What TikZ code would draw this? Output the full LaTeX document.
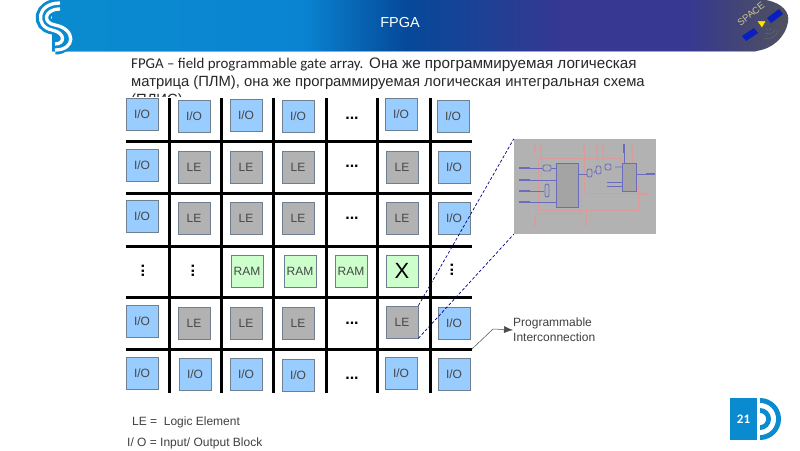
\documentclass[tikz,border=0pt]{standalone}
\usepackage{fontspec}
\setmainfont{Liberation Sans}
\newfontfamily\bodyfont{Carlito}
\usetikzlibrary{arrows.meta}
\definecolor{ioblue}{HTML}{99CCFF}
\definecolor{legrey}{HTML}{B2B2B2}
\definecolor{ramgreen}{HTML}{CCFFCC}
\definecolor{boxedge}{HTML}{6F7F8F}
\definecolor{logoblue}{HTML}{0A8BCF}
\definecolor{wirered}{HTML}{D99C9C}
\definecolor{wireblue}{HTML}{6C6CBC}
\definecolor{panelblue}{HTML}{0A1FC0}
\definecolor{spacetan}{HTML}{CFC688}
\pgfdeclarehorizontalshading{bannershade}{100bp}{
  color(0bp)=(logoblue); color(25bp)=(logoblue); color(42bp)=(logoblue!95!blue);
  color(49bp)=(logoblue!75!blue!70!black); color(59.4bp)=(rgb:red,50;green,52;blue,135);
  color(68bp)=(rgb:red,50;green,52;blue,135); color(75bp)=(rgb:red,200;green,205;blue,235);
  color(100bp)=(rgb:red,200;green,205;blue,235)}
\tikzset{
  cellbox/.style={draw=boxedge,line width=0.7pt,minimum width=32pt,minimum height=32pt,inner sep=0pt,
    font=\fontsize{12}{12}\selectfont,text=black!72},
  iobox/.style={cellbox,fill=ioblue},
  lebox/.style={cellbox,fill=legrey},
  rambox/.style={cellbox,fill=ramgreen},
  dotrow/.style={inner sep=0pt,font=\fontsize{16}{16}\bfseries\selectfont},
  dotcol/.style={dotrow,rotate=90},
  gridline/.style={line width=3pt,black},
  bodyline/.style={anchor=base west,inner sep=0pt,font=\fontsize{14.8}{14.8}\selectfont,text=black!85},
  legend/.style={anchor=base west,inner sep=0pt,font=\fontsize{12}{12}\selectfont,text=black!75},
  redwire/.style={wirered,line width=0.6pt},
  bluewire/.style={wireblue,line width=0.8pt},
  gate/.style={wireblue,line width=0.8pt,fill=legrey},
  pin/.style={wirered,line width=2pt},
  bluepin/.style={wireblue,line width=2pt}
}
\begin{document}
\begin{tikzpicture}[x=1pt,y=-1pt]
    \useasboundingbox (0,0) rectangle (800,450);
    % banner
    \shade [shading=bannershade] (52,51) -- (52,0) -- (766,0) .. controls (782,3) and (790,12) .. (788,22)
        .. controls (785,38) and (772,49) .. (756,51) -- cycle;
    \draw [logoblue!60,line width=0.7pt] (52,51) -- (756,51);
    % logo
    \draw [logoblue,line width=15pt] (60,6) .. controls (40,6) and (38,25) .. (53,27)
        .. controls (70,31) and (70,47) .. (55,47);
    \draw [white,line width=3.3pt] (60,3) .. controls (36,3) and (35,27) .. (52,30)
        .. controls (66,33) and (65,44) .. (55,44);
    \draw [white,line width=3.3pt] (60,9) .. controls (44,9) and (42,23) .. (55,25)
        .. controls (76,29) and (76,50) .. (55,50);
    \node [text=white,font=\fontsize{14.5}{14.5}\selectfont] (title) at (400,23) {FPGA};
    % satellite
    \fill [panelblue] (742,36) -- (754,28) -- (758,33) -- (746,41) -- cycle;
    \fill [panelblue] (767,18) -- (779,9) -- (783,14) -- (771,23) -- cycle;
    \fill [yellow!85!orange,draw=black!70,line width=0.4pt] (757,21) -- (766,21) -- (762,28) -- cycle;
    \node [rotate=38,text=spacetan,inner sep=0pt,font=\fontsize{9.5}{9.5}\selectfont] (space) at (751,14) {SPACE};
    \draw [black!60,line width=0.5pt] (766,29) .. controls (769,31) and (771,30) .. (772,28);
    \draw [black!60,line width=0.5pt] (765,33) .. controls (770,35) and (774,33) .. (775,29);
    \draw [black!60,line width=0.5pt] (764,38) .. controls (771,40) and (777,36) .. (778,30);
    % text
    \node [bodyline,font=\bodyfont\fontsize{14.9}{14.9}\selectfont] (linea) at (131,68) {FPGA – field programmable gate array.};
    \node [bodyline,font=\fontsize{15.2}{15.2}\selectfont] (lineaa) at (369,68) {Она же программируемая логическая};
    \node [bodyline] (lineb) at (131,86) {матрица (ПЛМ), она же программируемая логическая интегральная схема};
    \node [bodyline] (linec) at (131,104) {(ПЛИС)};
    \fill [white] (126,97) rectangle (300,112);
    % grid
    \draw [gridline] (126,141) -- (472,141);
    \draw [gridline] (126,193) -- (472,193);
    \draw [gridline] (126,246) -- (472,246);
    \draw [gridline] (126,297) -- (472,297);
    \draw [gridline] (126,349) -- (472,349);
    \draw [gridline] (169,98) -- (169,393);
    \draw [gridline] (221,98) -- (221,393);
    \draw [gridline] (273,98) -- (273,393);
    \draw [gridline] (326,98) -- (326,393);
    \draw [gridline] (377,98) -- (377,393);
    \draw [gridline] (430,98) -- (430,393);
    % row one
    \node [iobox] (ioa) at (142,114) {I/O};
    \node [iobox] (iob) at (194,116) {I/O};
    \node [iobox] (ioc) at (246,115) {I/O};
    \node [iobox] (iod) at (298,116) {I/O};
    \node [dotrow] (dotsa) at (352,118) {...};
    \node [iobox] (ioe) at (401,114) {I/O};
    \node [iobox] (iof) at (453,116) {I/O};
    % row two
    \node [iobox] (iog) at (142,165) {I/O};
    \node [lebox] (lea) at (194,167) {LE};
    \node [lebox] (leb) at (246,167) {LE};
    \node [lebox] (lec) at (298,167) {LE};
    \node [dotrow] (dotsb) at (352,166) {...};
    \node [lebox] (led) at (402,167) {LE};
    \node [iobox] (ioh) at (454,167) {I/O};
    % row three
    \node [iobox] (ioi) at (142,216) {I/O};
    \node [lebox] (lee) at (194,218) {LE};
    \node [lebox] (lef) at (246,218) {LE};
    \node [lebox] (leg) at (298,218) {LE};
    \node [dotrow] (dotsc) at (352,218) {...};
    \node [lebox] (leh) at (402,218) {LE};
    \node [iobox] (ioj) at (454,218) {I/O};
    % row four
    \node [dotcol] (dotsd) at (143,271) {...};
    \node [dotcol] (dotse) at (193,271) {...};
    \node [rambox] (rama) at (247,271) {RAM};
    \node [rambox] (ramb) at (300,271) {RAM};
    \node [rambox] (ramc) at (351,271) {RAM};
    \node [rambox,font=\fontsize{22}{22}\selectfont,text=black] (xcell) at (402,271) {X};
    \node [dotcol] (dotsf) at (452,270) {...};
    % row five
    \node [iobox] (iok) at (142,321) {I/O};
    \node [lebox] (lei) at (194,323) {LE};
    \node [lebox] (lej) at (246,323) {LE};
    \node [lebox] (lek) at (298,323) {LE};
    \node [dotrow] (dotsg) at (352,323) {...};
    \node [lebox] (lel) at (402,322) {LE};
    \node [iobox] (iol) at (454,323) {I/O};
    % row six
    \node [iobox] (iom) at (142,373) {I/O};
    \node [iobox] (ion) at (195,374) {I/O};
    \node [iobox] (ioo) at (246,374) {I/O};
    \node [iobox] (iop) at (298,375) {I/O};
    \node [dotrow] (dotsh) at (352,378) {...};
    \node [iobox] (ioq) at (401,373) {I/O};
    \node [iobox] (ior) at (454,374) {I/O};
    % zoomed element
    \node [fill=legrey,minimum width=142pt,minimum height=95pt,inner sep=0pt] (detail) at (585,186.5) {};
    \draw [densely dashed,blue!50!black,line width=0.7pt] (lel.north east) -- (detail.north west);
    \draw [densely dashed,blue!50!black,line width=0.7pt] (lel.south east) -- (detail.south west);
    % wires inside
    \draw [redwire] (538,158) -- (620,158) -- (620,163);
    \draw [redwire] (538,158) -- (538,210) -- (638,210) -- (638,185);
    \draw [redwire] (584,148) -- (584,193) -- (642,193);
    \draw [redwire] (535,217) -- (535,213) -- (581,213) -- (581,197);
    \draw [redwire] (586,217) -- (586,210);
    \draw [redwire] (541,153) -- (541,180);
    \draw [redwire] (603,153) -- (603,170);
    \draw [redwire] (597,153) -- (597,168);
    \draw [redwire] (632,153) -- (632,163);
    \draw [pin] (535,145) -- (535,153);
    \draw [pin] (541,145) -- (541,153);
    \draw [pin] (584,145) -- (584,153);
    \draw [pin] (597,145) -- (597,153);
    \draw [pin] (603,145) -- (603,153);
    \draw [pin] (632,145) -- (632,153);
    \draw [pin] (535,217) -- (535,226);
    \draw [pin] (586,217) -- (586,226);
    \draw [pin] (639,194) -- (649,194);
    \draw [bluepin] (519,168) -- (530,168);
    \draw [bluepin] (519,180) -- (530,180);
    \draw [bluepin] (519,191) -- (530,191);
    \draw [bluepin] (519,202) -- (530,202);
    \draw [bluepin] (624,144) -- (624,153);
    \draw [bluepin] (646,174) -- (655,174);
    \draw [bluewire] (530,168) -- (543,168);
    \draw [bluewire] (530,180) -- (556,180);
    \draw [bluewire] (530,191) -- (544,191) (530,202) -- (556,202);
    \draw [bluewire] (551,168) -- (556,168);
    \draw [bluewire] (578,174) -- (587,174);
    \draw [bluewire] (624,153) -- (624,163);
    \draw [bluewire] (636,174) -- (646,174);
    \draw [bluewire] (615,167) -- (622,167) (606,167) -- (610,167) (594,173) -- (596,170);
    \draw [bluewire] (607,182) -- (622,182) (607,186) -- (622,186);
    \draw [gate,rounded corners=2pt] (543,165) rectangle (551,171);
    \draw [gate,rounded corners=2pt] (545,184) rectangle (549,197);
    \draw [gate,rounded corners=2pt] (587,169) rectangle (592,177);
    \draw [gate,rounded corners=2pt] (596,166) rectangle (601,174);
    \draw [gate,rounded corners=2pt] (605,164) rectangle (611,170);
    \draw [bluewire,fill=legrey!92!black] (556,163) rectangle (578,207);
    \draw [bluewire,fill=legrey!92!black] (622,163) rectangle (636,191);
    % label
    \node [anchor=west,inner sep=0pt,align=left,font=\fontsize{12}{15}\selectfont,text=black!75] (prog) at (513,330) {Programmable\\Interconnection};
    \coordinate (wire) at (472,349);
    \draw [-{Latex[length=9pt,width=7pt]},black!70,line width=0.5pt] (wire) -- (493,329) -- (prog.west);
    \node [legend] (lega) at (132,425) {LE =\ \ Logic Element};
    \node [legend] (legb) at (127,446) {I/ O = Input/ Output Block};
    % page mark
    \fill [logoblue] (760,398) arc (-90:90:21) -- cycle;
    \fill [white] (760,403) arc (-90:90:16) -- cycle;
    \fill [logoblue] (760,408) arc (-90:90:11) -- cycle;
    \fill [white] (760,413) arc (-90:90:6) -- cycle;
    \node [fill=logoblue,minimum width=27pt,minimum height=42pt,inner sep=0pt,text=white,font=\bodyfont\fontsize{13}{13}\bfseries\selectfont] (page) at (743.5,419) {21};
\end{tikzpicture}
\end{document}
